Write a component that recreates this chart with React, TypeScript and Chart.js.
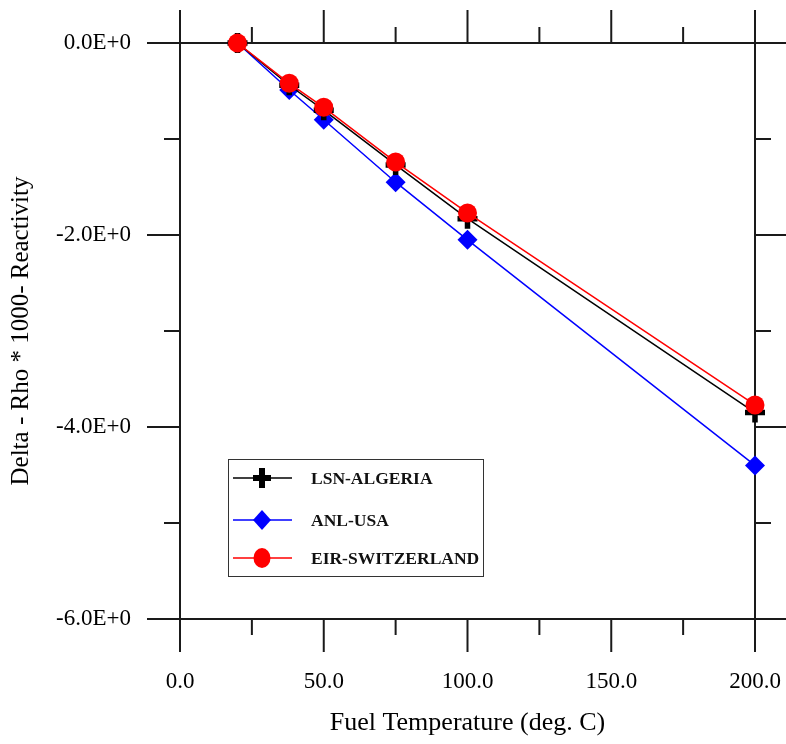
import React, { useEffect, useRef } from "react";
import { Chart, registerables } from "chart.js";

Chart.register(...registerables);

// ---- data ----
const fuelTemperature = [20, 38, 50, 75, 100, 200];
const lsnAlgeria = [0, -0.44, -0.7, -1.27, -1.83, -3.85];
const anlUsa = [0, -0.49, -0.8, -1.45, -2.05, -4.4];
const eirSwitzerland = [0, -0.42, -0.67, -1.24, -1.77, -3.77];

const seriesNames = ["LSN-ALGERIA", "ANL-USA", "EIR-SWITZERLAND"];

const xMajorTicks = [0, 50, 100, 150, 200];
const xMinorTicks = [25, 75, 125, 175];
const xTickLabels = ["0.0", "50.0", "100.0", "150.0", "200.0"];
const yMajorTicks = [0, -2, -4, -6];
const yMinorTicks = [-1, -3, -5];
const yTickLabels = ["0.0E+0", "-2.0E+0", "-4.0E+0", "-6.0E+0"];

const xTitle = "Fuel Temperature (deg. C)";
const yTitle = "Delta - Rho * 1000- Reactivity";

const FONT = "'Liberation Serif', 'Times New Roman', serif";

const zeroPad = (s: any) => {
  s.paddingLeft = 0;
  s.paddingRight = 0;
  s.paddingTop = 0;
  s.paddingBottom = 0;
};

const framePlugin = {
  id: "frame",
  beforeDatasetsDraw(chart: any) {
    const { ctx, chartArea } = chart;
    const xs = chart.scales.x;
    const ys = chart.scales.y;
    const { left, right, top, bottom } = chartArea;
    const major = 33;
    const minor = 16;
    ctx.save();
    ctx.strokeStyle = "#1a1a1a";
    ctx.lineWidth = 2;
    ctx.lineCap = "butt";
    ctx.beginPath();
    ctx.rect(left, top, right - left, bottom - top);
    const vt = (v: number, len: number) => {
      const p = xs.getPixelForValue(v);
      ctx.moveTo(p, top);
      ctx.lineTo(p, top - len);
      ctx.moveTo(p, bottom);
      ctx.lineTo(p, bottom + len);
    };
    const ht = (v: number, len: number) => {
      const p = ys.getPixelForValue(v);
      ctx.moveTo(left, p);
      ctx.lineTo(left - len, p);
      ctx.moveTo(right, p);
      ctx.lineTo(right + len, p);
    };
    xMajorTicks.forEach((v) => vt(v, major));
    xMinorTicks.forEach((v) => vt(v, minor));
    yMajorTicks.forEach((v) => ht(v, major));
    yMinorTicks.forEach((v) => ht(v, minor));
    ctx.stroke();
    ctx.restore();
  },
  afterDraw(chart: any) {
    const { ctx } = chart;
    const bx = 228, by = 459, bw = 255, bh = 117;
    const rows = [478, 520, 558];
    const lineX0 = 233, lineX1 = 292, mx = 262, tx = 311;
    ctx.save();
    ctx.fillStyle = "#ffffff";
    ctx.fillRect(bx, by, bw, bh);
    ctx.strokeStyle = "#333333";
    ctx.lineWidth = 1;
    ctx.strokeRect(bx + 0.5, by + 0.5, bw, bh);
    const colors = ["#000000", "#0000ff", "#ff0000"];
    rows.forEach((y, i) => {
      ctx.strokeStyle = colors[i];
      ctx.fillStyle = colors[i];
      ctx.lineWidth = 1.5;
      ctx.beginPath();
      ctx.moveTo(lineX0, y);
      ctx.lineTo(lineX1, y);
      ctx.stroke();
      ctx.beginPath();
      if (i === 0) {
        ctx.fillRect(mx - 9, y - 3, 18, 6);
        ctx.fillRect(mx - 3, y - 10, 6, 20);
      } else if (i === 1) {
        ctx.moveTo(mx, y - 10);
        ctx.lineTo(mx + 9, y);
        ctx.lineTo(mx, y + 10);
        ctx.lineTo(mx - 9, y);
        ctx.closePath();
        ctx.fill();
      } else {
        ctx.ellipse(mx, y, 8.5, 10, 0, 0, Math.PI * 2);
        ctx.fill();
      }
      ctx.fillStyle = "#111111";
      ctx.font = `bold 17.5px ${FONT}`;
      ctx.textAlign = "left";
      ctx.textBaseline = "middle";
      ctx.fillText(seriesNames[i], tx, y + 1);
    });
    ctx.restore();
  },
};

export default function App() {
  const ref = useRef<HTMLCanvasElement | null>(null);
  useEffect(() => {
    document.body.style.margin = "0";
    const canvas = ref.current;
    if (!canvas) return;
    const toPts = (ys: number[]) => fuelTemperature.map((x, i) => ({ x, y: ys[i] }));
    const chart = new Chart(canvas, {
      type: "line",
      data: {
        datasets: [
          {
            label: seriesNames[0],
            data: toPts(lsnAlgeria),
            borderColor: "#000000",
            backgroundColor: "#000000",
            borderWidth: 1.5,
            pointStyle: "cross",
            pointRadius: 10,
            pointBorderWidth: 5.5,
            pointBorderColor: "#000000",
            clip: false,
            order: 1,
          },
          {
            label: seriesNames[1],
            data: toPts(anlUsa),
            borderColor: "#0000ff",
            backgroundColor: "#0000ff",
            borderWidth: 1.5,
            pointStyle: "rectRot",
            pointRadius: 10,
            pointBorderWidth: 0,
            clip: false,
            order: 2,
          },
          {
            label: seriesNames[2],
            data: toPts(eirSwitzerland),
            borderColor: "#ff0000",
            backgroundColor: "#ff0000",
            borderWidth: 1.5,
            pointStyle: "circle",
            pointRadius: 9.5,
            pointBorderWidth: 0,
            clip: false,
            order: 0,
          },
        ],
      } as any,
      options: {
        responsive: false,
        animation: false,
        layout: { padding: { left: 0, top: 43, right: 31, bottom: 0 } },
        plugins: { legend: { display: false }, tooltip: { enabled: false } },
        scales: {
          x: {
            type: "linear",
            min: 0,
            max: 200,
            grid: { display: false, drawTicks: false },
            border: { display: false },
            afterFit: (s: any) => {
              s.height = 125;
              zeroPad(s);
            },
            afterBuildTicks: (s: any) => {
              s.ticks = xMajorTicks.map((v) => ({ value: v }));
            },
            ticks: {
              padding: 49,
              autoSkip: false,
              maxRotation: 0,
              color: "#000000",
              font: { family: FONT, size: 23 },
              callback: (v: any) => {
                const i = xMajorTicks.indexOf(Number(v));
                return i >= 0 ? xTickLabels[i] : "";
              },
            },
            title: {
              display: true,
              text: xTitle,
              color: "#000000",
              font: { family: FONT, size: 26 },
              padding: { top: 0, bottom: 5 },
            },
          },
          y: {
            type: "linear",
            min: -6,
            max: 0,
            grid: { display: false, drawTicks: false },
            border: { display: false },
            afterFit: (s: any) => {
              s.width = 180;
              zeroPad(s);
            },
            afterBuildTicks: (s: any) => {
              s.ticks = yMajorTicks.map((v) => ({ value: v }));
            },
            ticks: {
              padding: 49,
              autoSkip: false,
              color: "#000000",
              font: { family: FONT, size: 23 },
              callback: (v: any) => {
                const i = yMajorTicks.indexOf(Number(v));
                return i >= 0 ? yTickLabels[i] : "";
              },
            },
            title: {
              display: true,
              text: yTitle,
              color: "#000000",
              font: { family: FONT, size: 25 },
              padding: { top: 6, bottom: 0 },
            },
          },
        },
      } as any,
      plugins: [framePlugin],
    });
    return () => chart.destroy();
  }, []);
  return (
    <div style={{ width: 786, height: 744, background: "#ffffff" }}>
      <canvas ref={ref} width={786} height={744} style={{ display: "block" }} />
    </div>
  );
}
